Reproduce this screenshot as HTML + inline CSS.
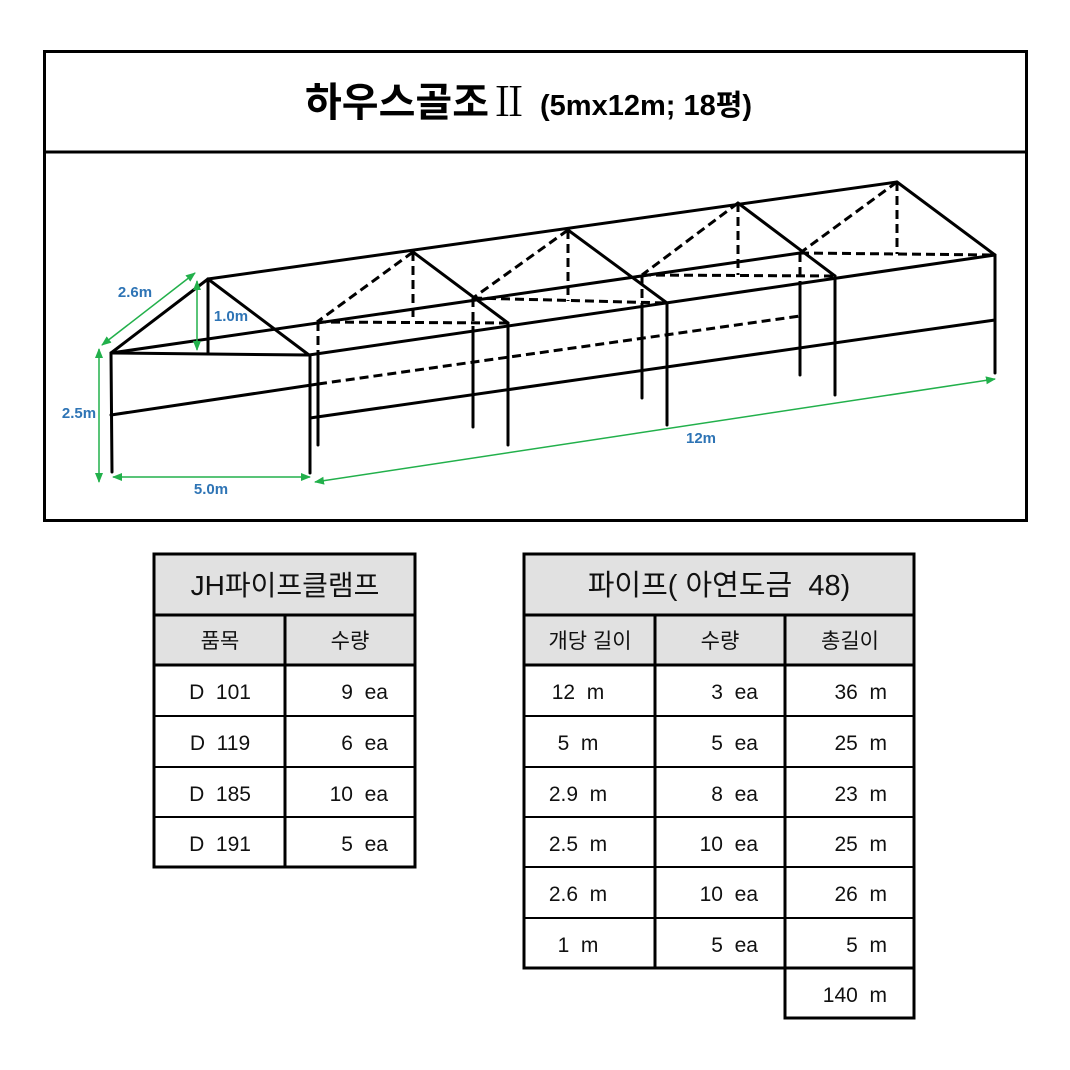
<!DOCTYPE html>
<html><head><meta charset="utf-8"><style>
html,body{margin:0;padding:0;background:#fff;}
svg{display:block;}
text{white-space:pre;}
.k{font-family:"Liberation Sans","Noto Sans CJK KR",sans-serif;}
</style></head><body>
<svg width="1070" height="1070" viewBox="0 0 1070 1070" xmlns="http://www.w3.org/2000/svg">
<defs>
<marker id="ar" markerWidth="10" markerHeight="10" refX="9" refY="5" orient="auto-start-reverse" markerUnits="userSpaceOnUse">
<path d="M0,1 L10,5 L0,9 z" fill="#22b04b"/></marker>
</defs>
<rect width="1070" height="1070" fill="#fff"/>
<rect x="44.5" y="51.5" width="982" height="469" fill="none" stroke="#000" stroke-width="3"/>
<line x1="44" y1="152" x2="1027" y2="152" stroke="#000" stroke-width="3"/>
<text x="305" y="116" class="k" font-size="40" font-weight="bold">하우스골조<tspan font-family="Noto Serif CJK SC,serif" font-weight="normal" font-size="40">Ⅱ</tspan></text>
<text x="540" y="115" class="k" font-size="29" font-weight="bold">(5mx12m; 18평)</text>

<g stroke="#000" stroke-width="3" fill="none" stroke-linecap="round">
<line x1="111" y1="353" x2="208" y2="279"/>
<line x1="208" y1="279" x2="309" y2="355"/>
<line x1="111" y1="353" x2="309" y2="355"/>
<line x1="208" y1="279" x2="208" y2="354"/>
<line x1="111" y1="353" x2="112" y2="472"/>
<line x1="310" y1="355" x2="310" y2="473"/>
<line x1="208" y1="279" x2="897" y2="182"/>
<line x1="309" y1="355" x2="995" y2="255"/>
<line x1="111" y1="353" x2="800" y2="253"/>
<line x1="111" y1="415" x2="318" y2="384"/>
<line x1="310" y1="418" x2="995" y2="320"/>
<line x1="897" y1="182" x2="995" y2="255"/>
<line x1="995" y1="255" x2="995" y2="373"/>
<line x1="413" y1="252" x2="508" y2="323"/>
<line x1="508" y1="323" x2="508" y2="445"/>
<line x1="318" y1="354" x2="318" y2="445"/>
<line x1="568" y1="230" x2="667" y2="303"/>
<line x1="667" y1="303" x2="667" y2="425"/>
<line x1="473" y1="331" x2="473" y2="427"/>
<line x1="738" y1="203" x2="835" y2="276"/>
<line x1="835" y1="276" x2="835" y2="395"/>
<line x1="642" y1="306" x2="642" y2="398"/>
<line x1="800" y1="283" x2="800" y2="375"/>
</g>
<g stroke="#000" stroke-width="3" fill="none" stroke-dasharray="9,5">
<line x1="318" y1="384" x2="800" y2="316"/>
<line x1="413" y1="252" x2="317" y2="322"/>
<line x1="317" y1="322" x2="508" y2="323"/>
<line x1="413" y1="252" x2="413" y2="322"/>
<line x1="318" y1="322" x2="318" y2="354"/>
<line x1="568" y1="230" x2="473" y2="298"/>
<line x1="473" y1="298" x2="667" y2="303"/>
<line x1="568" y1="230" x2="568" y2="301"/>
<line x1="473" y1="298" x2="473" y2="331"/>
<line x1="738" y1="203" x2="642" y2="275"/>
<line x1="642" y1="275" x2="835" y2="276"/>
<line x1="738" y1="203" x2="738" y2="275"/>
<line x1="642" y1="275" x2="642" y2="306"/>
<line x1="897" y1="182" x2="800" y2="253"/>
<line x1="800" y1="253" x2="995" y2="255"/>
<line x1="897" y1="182" x2="897" y2="254"/>
<line x1="800" y1="253" x2="800" y2="283"/>
</g>
<g stroke="#22b04b" stroke-width="1.5" fill="none">
<line x1="102" y1="345" x2="195" y2="273" marker-start="url(#ar)" marker-end="url(#ar)"/>
<line x1="197" y1="281" x2="197" y2="350" marker-start="url(#ar)" marker-end="url(#ar)"/>
<line x1="99" y1="349" x2="99" y2="482" marker-start="url(#ar)" marker-end="url(#ar)"/>
<line x1="113" y1="477" x2="310" y2="477" marker-start="url(#ar)" marker-end="url(#ar)"/>
<line x1="315" y1="482" x2="995" y2="379" marker-start="url(#ar)" marker-end="url(#ar)"/>
</g>
<g class="k" font-size="15" font-weight="bold" fill="#2e74b5" text-anchor="middle">
<text x="135" y="297">2.6m</text>
<text x="231" y="321">1.0m</text>
<text x="79" y="418">2.5m</text>
<text x="211" y="494">5.0m</text>
<text x="701" y="443">12m</text>
</g>

<rect x="154" y="554" width="261" height="111" fill="#e1e1e1"/>
<g stroke="#000" stroke-width="3" fill="none">
<rect x="154" y="554" width="261" height="313"/>
<line x1="154" y1="615" x2="415" y2="615"/>
<line x1="154" y1="665" x2="415" y2="665"/>
<line x1="154" y1="716" x2="415" y2="716" stroke-width="2"/>
<line x1="154" y1="767" x2="415" y2="767" stroke-width="2"/>
<line x1="154" y1="817" x2="415" y2="817" stroke-width="2"/>
<line x1="285" y1="615" x2="285" y2="867"/>
</g>
<g class="k" font-size="21" fill="#111">
<text x="285" y="595" font-size="28" text-anchor="middle">JH파이프클램프</text>
<text x="220" y="648" text-anchor="middle">품목</text>
<text x="350" y="648" text-anchor="middle">수량</text>
<text x="220" y="699" text-anchor="middle">D  101</text>
<text x="220" y="750" text-anchor="middle">D  119</text>
<text x="220" y="801" text-anchor="middle">D  185</text>
<text x="220" y="851" text-anchor="middle">D  191</text>
<text x="388" y="699" text-anchor="end">9  ea</text>
<text x="388" y="750" text-anchor="end">6  ea</text>
<text x="388" y="801" text-anchor="end">10  ea</text>
<text x="388" y="851" text-anchor="end">5  ea</text>
</g>

<rect x="524" y="554" width="390" height="111" fill="#e1e1e1"/>
<g stroke="#000" stroke-width="3" fill="none">
<rect x="524" y="554" width="390" height="414"/>
<rect x="785" y="968" width="129" height="50"/>
<line x1="524" y1="615" x2="914" y2="615"/>
<line x1="524" y1="665" x2="914" y2="665"/>
<line x1="524" y1="716" x2="914" y2="716" stroke-width="2"/>
<line x1="524" y1="767" x2="914" y2="767" stroke-width="2"/>
<line x1="524" y1="817" x2="914" y2="817" stroke-width="2"/>
<line x1="524" y1="867" x2="914" y2="867" stroke-width="2"/>
<line x1="524" y1="918" x2="914" y2="918" stroke-width="2"/>
<line x1="655" y1="615" x2="655" y2="968"/>
<line x1="785" y1="615" x2="785" y2="968"/>
</g>
<g class="k" font-size="21" fill="#111">
<text x="719" y="595" font-size="29" text-anchor="middle">파이프( 아연도금  48)</text>
<text x="590" y="648" text-anchor="middle">개당 길이</text>
<text x="720" y="648" text-anchor="middle">수량</text>
<text x="850" y="648" text-anchor="middle">총길이</text>
<text x="578" y="699" text-anchor="middle">12  m</text>
<text x="578" y="750" text-anchor="middle">5  m</text>
<text x="578" y="801" text-anchor="middle">2.9  m</text>
<text x="578" y="851" text-anchor="middle">2.5  m</text>
<text x="578" y="901" text-anchor="middle">2.6  m</text>
<text x="578" y="952" text-anchor="middle">1  m</text>
<text x="758" y="699" text-anchor="end">3  ea</text>
<text x="758" y="750" text-anchor="end">5  ea</text>
<text x="758" y="801" text-anchor="end">8  ea</text>
<text x="758" y="851" text-anchor="end">10  ea</text>
<text x="758" y="901" text-anchor="end">10  ea</text>
<text x="758" y="952" text-anchor="end">5  ea</text>
<text x="887" y="699" text-anchor="end">36  m</text>
<text x="887" y="750" text-anchor="end">25  m</text>
<text x="887" y="801" text-anchor="end">23  m</text>
<text x="887" y="851" text-anchor="end">25  m</text>
<text x="887" y="901" text-anchor="end">26  m</text>
<text x="887" y="952" text-anchor="end">5  m</text>
<text x="887" y="1002" text-anchor="end">140  m</text>
</g>
</svg>
</body></html>
